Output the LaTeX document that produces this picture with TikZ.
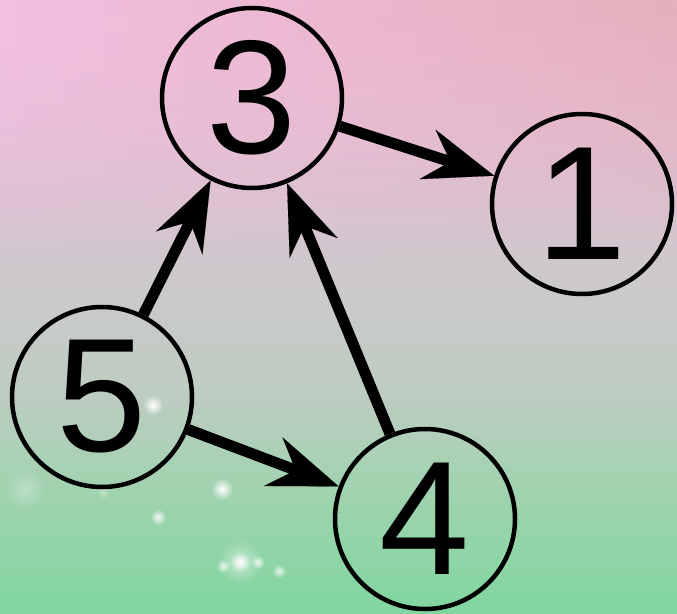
\documentclass[tikz,border=0pt]{standalone}
\usepackage{fontspec}
\setmainfont{Liberation Sans}
\usetikzlibrary{arrows.meta,fadings}
\definecolor{bgA}{HTML}{80D6A0}
\definecolor{bgB}{HTML}{A6D2B2}
\definecolor{bgBB}{HTML}{BCCCC0}
\definecolor{bgC}{HTML}{CACACA}
\definecolor{bgD}{HTML}{DEC2D4}
\definecolor{bgE}{HTML}{EDBCD8}
\definecolor{tintL}{HTML}{F3C0E2}
\definecolor{tintR}{HTML}{E6AFBC}
\pgfdeclareverticalshading{bgshade}{100bp}{color(0bp)=(bgA); color(25bp)=(bgA); color(36.7bp)=(bgB); color(42.4bp)=(bgBB); color(50.5bp)=(bgC); color(62.8bp)=(bgD); color(75bp)=(bgE); color(100bp)=(bgE)}
\tikzfading[name=fadedown, top color=transparent!0, bottom color=transparent!100]
\tikzfading[name=glow, inner color=transparent!0, outer color=transparent!100]
\tikzset{
  vertex/.style={circle, draw=black, line width=4.5pt, minimum size=180pt, inner sep=0pt,
    font=\fontsize{162}{162}\selectfont},
  edgearrow/.style={line width=11pt, black,
    -{Stealth[length=70pt, width=52pt, inset=24pt, line width=0.1pt]}},
  sparkle/.style={white, path fading=glow},
}
\begin{document}
\begin{tikzpicture}[x=1pt, y=-1pt]
  \useasboundingbox (0,0) rectangle (677,613);
  \shade[shading=bgshade] (0,0) rectangle (677,613);
  \shade[left color=tintL, right color=tintR, path fading=fadedown] (0,0) rectangle (677,260);
  % sparkles
  \fill[sparkle, opacity=0.3] (25,490) circle (20);
  \fill[sparkle, opacity=0.35] (103,492) circle (7);
  \fill[sparkle, opacity=1] (153,405) circle (10);
  \fill[sparkle, opacity=1] (222,489) circle (11);
  \fill[sparkle, opacity=0.9] (158,517) circle (8);
  \fill[sparkle, opacity=0.5] (240,562) circle (22);
  \fill[sparkle, opacity=1] (240,562) circle (10);
  \fill[sparkle, opacity=0.8] (223,566) circle (7);
  \fill[sparkle, opacity=0.8] (258,562) circle (7);
  \fill[sparkle, opacity=0.8] (279,571) circle (7);
  % nodes
  \node[vertex] (n3) at (252,98) {3};
  \node[vertex] (n1) at (582,204) {1};
  \node[vertex] (n5) at (102,397) {5};
  \node[vertex] (n4) at (425,519) {4};
  % edges
  \draw[edgearrow] (n3) -- (n1);
  \draw[edgearrow] (n5) -- (n3);
  \draw[edgearrow] (n4) -- (n3);
  \draw[edgearrow] (n5) -- (n4);
\end{tikzpicture}
\end{document}
